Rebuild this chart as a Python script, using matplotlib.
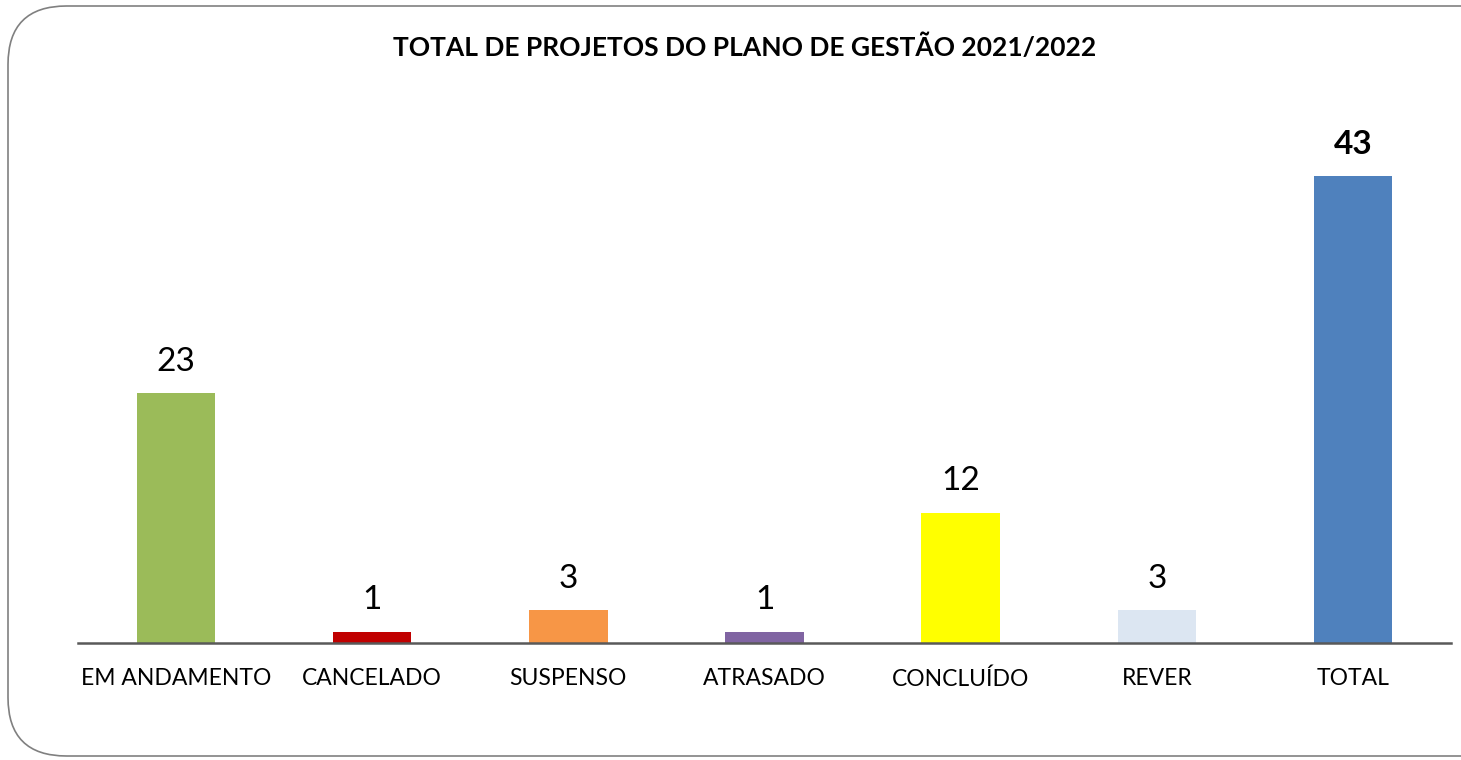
import matplotlib.pyplot as plt
from matplotlib.patches import FancyBboxPatch

categories = ['EM ANDAMENTO', 'CANCELADO', 'SUSPENSO', 'ATRASADO', 'CONCLUÍDO', 'REVER', 'TOTAL']
values = [23, 1, 3, 1, 12, 3, 43]
colors = ['#9BBB59', '#C00000', '#F79646', '#8064A2', '#FFFF00', '#DCE6F2', '#4F81BD']

plt.rcParams['font.family'] = ['Lato', 'DejaVu Sans']

fig = plt.figure(figsize=(14.61, 7.6), dpi=100)

# rounded frame around the chart, runs off the right edge
frame = FancyBboxPatch((8 / 1461, 4 / 760), 1600 / 1461, 750 / 760,
                       boxstyle='round,pad=0,rounding_size=0.04',
                       transform=fig.transFigure, fill=False,
                       edgecolor='#808080', linewidth=1.2, mutation_aspect=1461 / 760)
fig.patches.append(frame)

ax = fig.add_axes([78 / 1461, 117 / 760, 1373 / 1461, 543 / 760])
x = range(len(categories))
bars = ax.bar(x, values, width=0.4, color=colors, zorder=2)

ax.set_xlim(-0.5, len(categories) - 0.5)
ax.set_ylim(0, 50)
ax.set_yticks([])
for s in ['top', 'right', 'left']:
    ax.spines[s].set_visible(False)
ax.spines['bottom'].set_color('#595959')
ax.spines['bottom'].set_linewidth(1.8)
ax.spines['bottom'].set_zorder(3)
ax.set_xticks(list(x))
ax.set_xticklabels(categories, fontsize=16.5)
ax.tick_params(axis='x', length=0, pad=18)

for i, (b, v) in enumerate(zip(bars, values)):
    bold = categories[i] == 'TOTAL'
    ax.annotate(str(v), (b.get_x() + b.get_width() / 2, v),
                xytext=(0, 12), textcoords='offset points',
                ha='center', va='bottom', fontsize=24,
                fontweight='bold' if bold else 'normal')

fig.text(745 / 1461, 1 - 47 / 760, 'TOTAL DE PROJETOS DO PLANO DE GESTÃO 2021/2022',
         ha='center', va='center', fontsize=19, fontweight='bold')

fig.savefig('out.png', dpi=100)
